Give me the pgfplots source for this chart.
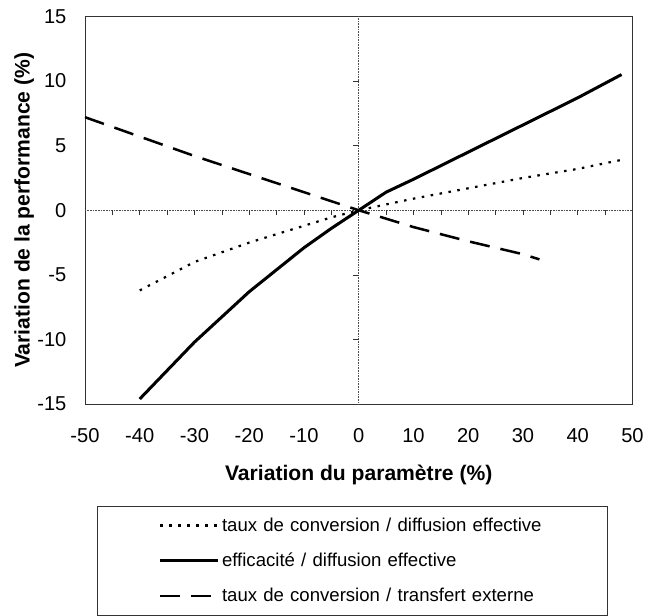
\documentclass[border=0pt]{standalone}
\usepackage{fontspec}
\setmainfont{Liberation Sans}
\usepackage{pgfplots}
\pgfplotsset{compat=1.18}

\begin{document}
\begin{tikzpicture}
\begin{axis}[
    width=545pt, height=386pt, scale only axis,
    xmin=-50, xmax=50, ymin=-15, ymax=15,
    xtick={-50,-40,...,50},
    ytick={-15,-10,...,15},
    major tick length=0pt,
    axis line style={line width=0.8pt, black!80},
    /pgf/number format/assume math mode=true,
    ticklabel style={font=\fontsize{20}{24}\selectfont},
    xticklabel style={yshift=-21pt},
    yticklabel style={xshift=-15pt},
    xlabel={Variation du paramètre (\%)},
    ylabel={Variation de la performance (\%)},
    label style={font=\fontsize{21}{25}\selectfont\bfseries},
    xlabel style={at={(axis description cs:0.5,-0.197)}, anchor=base},
    ylabel style={at={(axis description cs:-0.101,0.5)}, rotate=0, anchor=base},
    legend style={
        at={(axis description cs:0,0)}, anchor=north west,
        xshift=12pt, yshift=-101pt,
        draw=black!80, line width=0.8pt,
        inner xsep=61pt, inner ysep=10pt, row sep=16pt,
        font=\fontsize{18.5}{22}\selectfont,
        cells={anchor=west, text width=321pt},
    },
    legend image code/.code={\draw[#1] (0pt,0pt) -- (58pt,0pt);},
]
% zero lines with their ticks
\draw[densely dotted, black!70, line width=0.6pt] (axis cs:-50,0) -- (axis cs:50,0);
\draw[densely dotted, black!70, line width=0.6pt] (axis cs:0,-15) -- (axis cs:0,15);
\pgfplotsinvokeforeach{-45,-40,...,50}{\draw[black!80, line width=0.6pt] (axis cs:#1,0) -- ([yshift=-5pt]axis cs:#1,0);}
\pgfplotsinvokeforeach{-10,-5,5,10}{\draw[black!80, line width=0.6pt] (axis cs:0,#1) -- ([xshift=-6pt]axis cs:0,#1);}

\addplot[black, line width=2.2pt, dash pattern=on 2.5pt off 6.5pt] coordinates {
    (-40,-6.2) (-30,-4.0) (-20,-2.5) (-10,-1.2) (-5,-0.55) (0,0)
    (10,0.9) (20,1.7) (30,2.5) (40,3.2) (48,3.9)};
\addlegendentry{taux de conversion / diffusion effective}

\addplot[black, line width=3pt] coordinates {
    (-40,-14.6) (-30,-10.2) (-20,-6.3) (-10,-2.9) (-5,-1.4) (0,0)
    (5,1.4) (10,2.4) (20,4.5) (30,6.6) (40,8.7) (48,10.5)};
\addlegendentry{efficacité / diffusion effective}

\addplot[black, line width=2.5pt, dash pattern=on 20pt off 11pt] coordinates {
    (-50,7.2) (-40,5.7) (-30,4.2) (-20,2.8) (-10,1.4) (0,0)
    (10,-1.3) (20,-2.4) (30,-3.4) (33,-3.8)};
\addlegendentry{taux de conversion / transfert externe}
\end{axis}
% blank margin at left and top, as in the reference
\path ([xshift=-11pt,yshift=6pt]current bounding box.north west);
\end{tikzpicture}
\end{document}
